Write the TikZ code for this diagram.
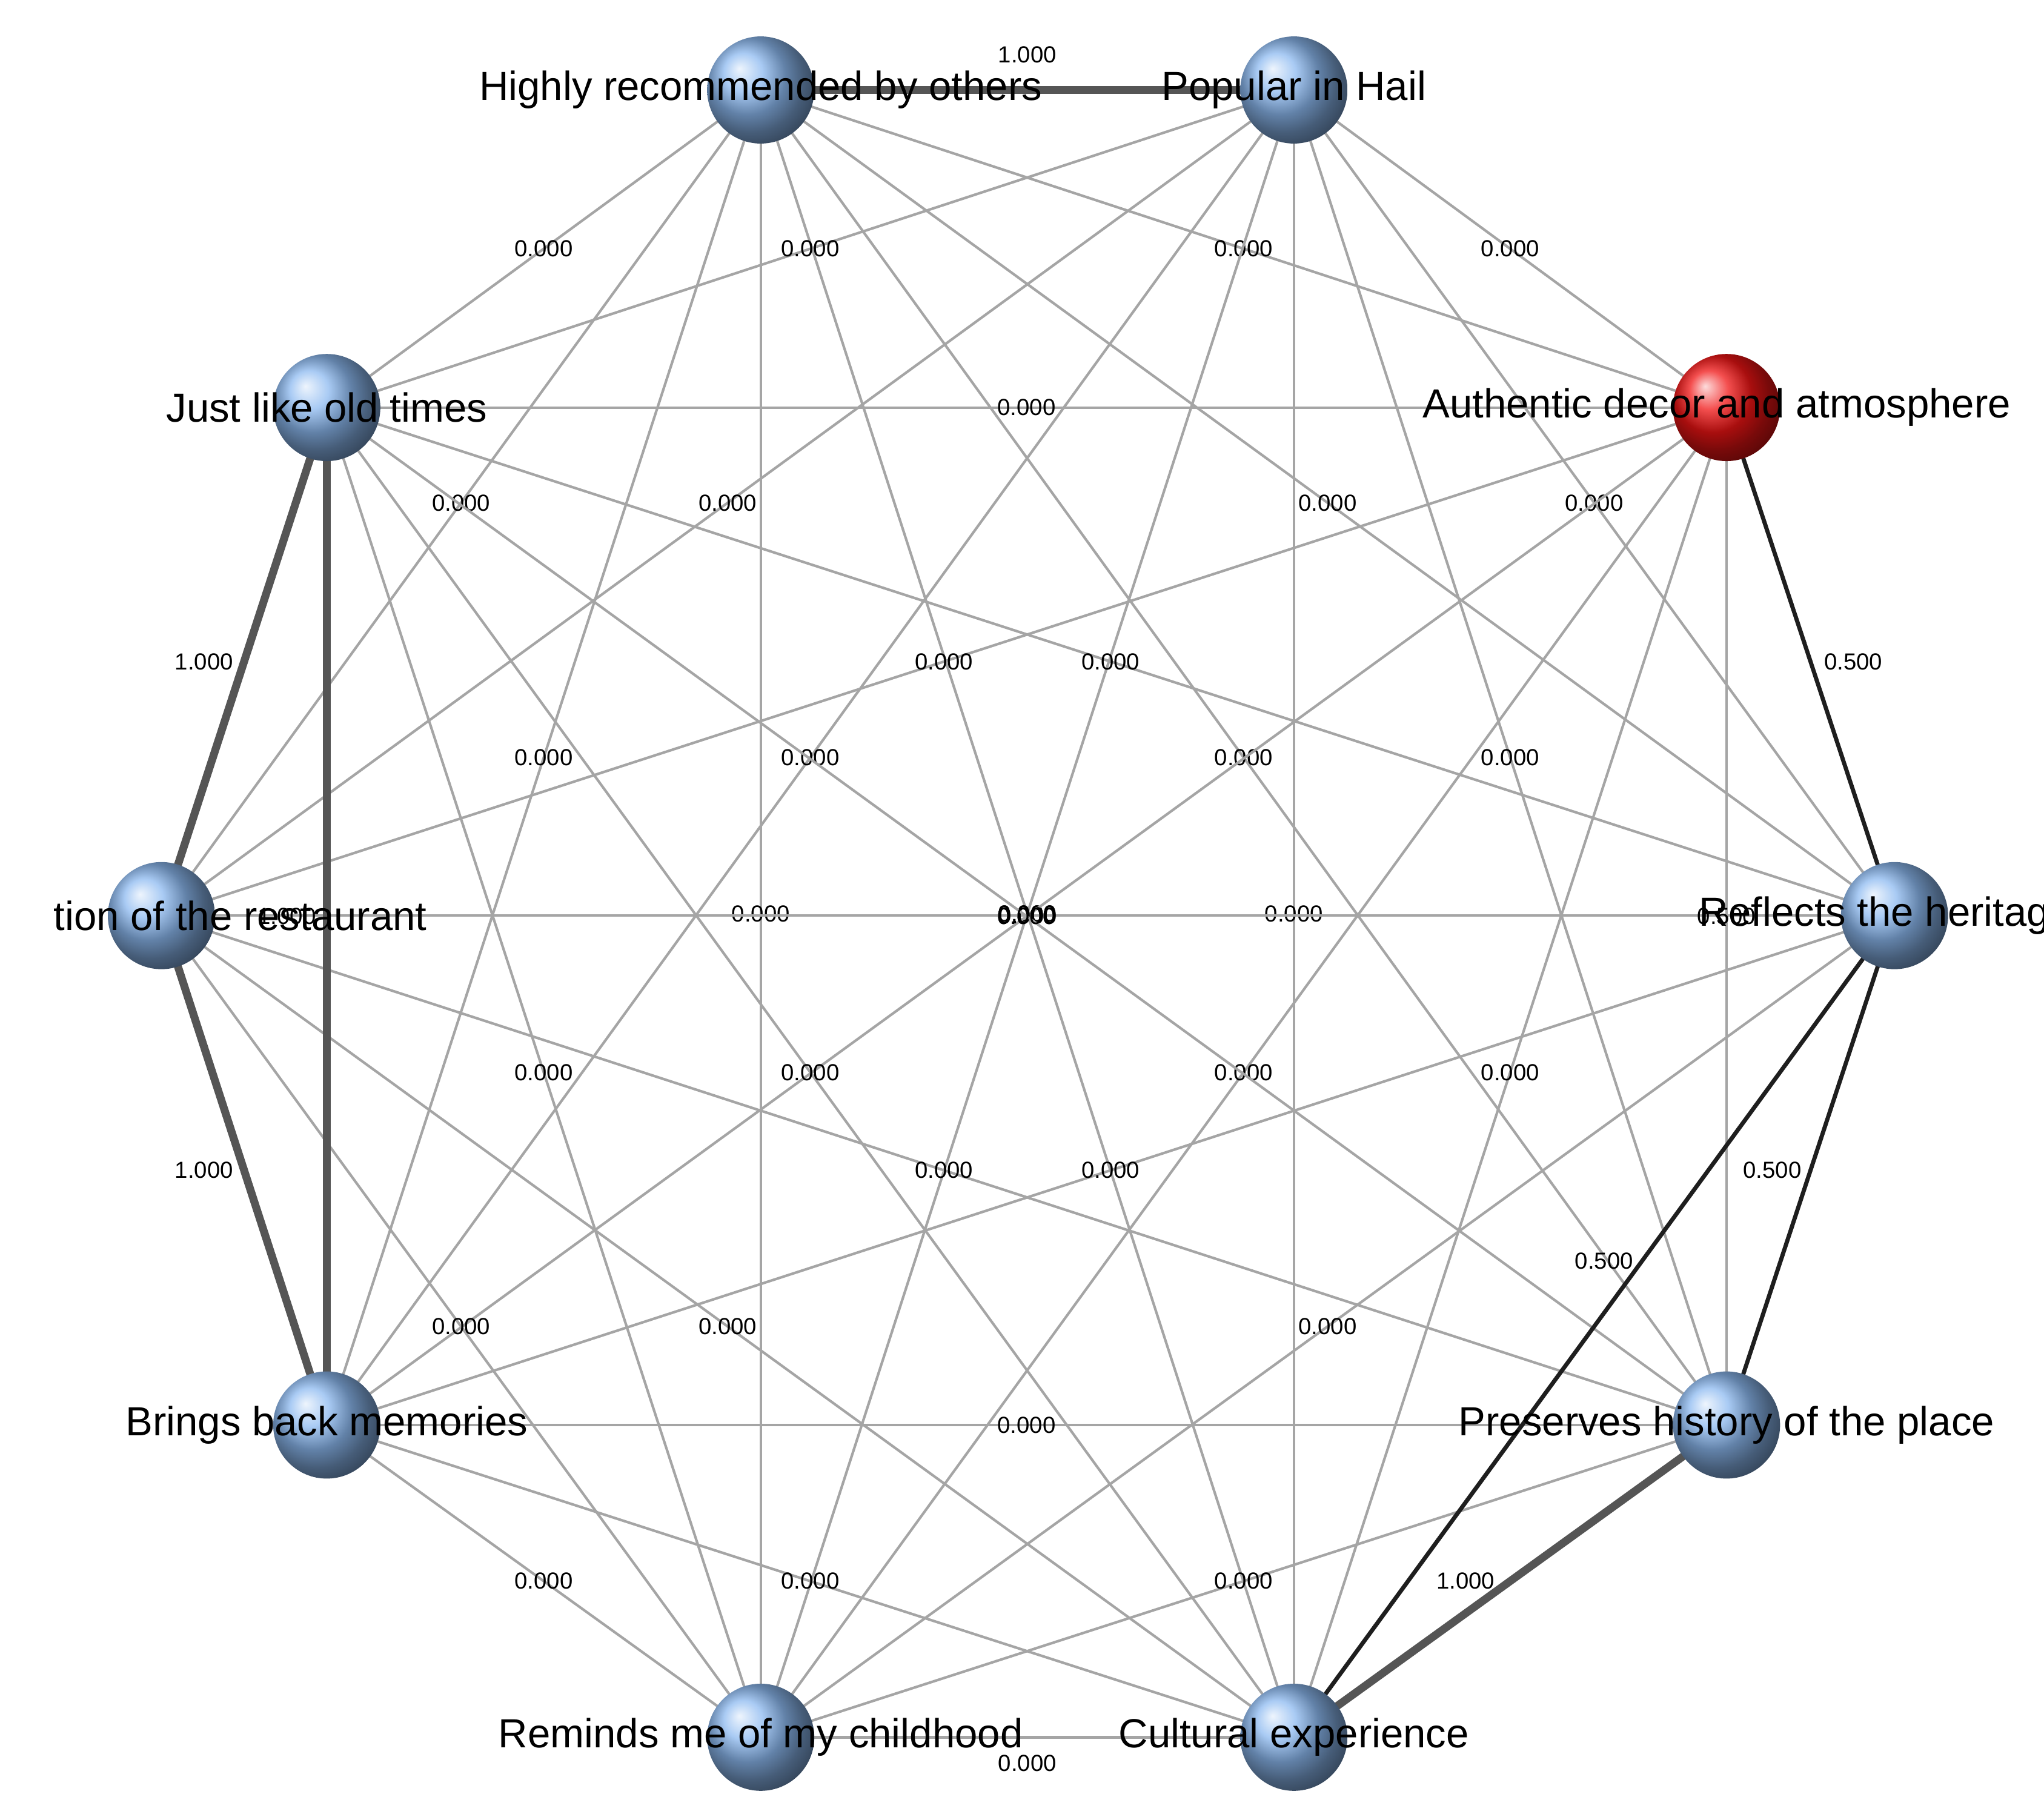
\documentclass[tikz,border=0pt]{standalone}
\usepackage{fontspec}
\setmainfont{Liberation Sans}
\usetikzlibrary{shadings}
\begin{document}
\begin{tikzpicture}[x=0.02cm,y=-0.02cm,
  lite/.style={draw={rgb,255:red,165;green,165;blue,165},line width=1.1pt},
  heavy/.style={draw={rgb,255:red,85;green,85;blue,85},line width=3.4pt},
  mid/.style={draw={rgb,255:red,30;green,30;blue,30},line width=1.8pt},
  elab/.style={font=\fontsize{10}{10}\selectfont,inner sep=1pt},
  nlab/.style={font=\fontsize{17.5}{17.5}\selectfont,inner sep=0pt},
  ballnode/.style={circle,minimum size=1.62cm,inner sep=0pt,shading=ball}]
\useasboundingbox (0,0) rectangle (1545,1373);
\clip (0,0) rectangle (1545,1373);
\coordinate (n0) at (575,68);
\coordinate (n1) at (978,68);
\coordinate (n2) at (1305,308);
\coordinate (n3) at (1432,692);
\coordinate (n4) at (1305,1077);
\coordinate (n5) at (978,1313);
\coordinate (n6) at (575,1313);
\coordinate (n7) at (247,1077);
\coordinate (n8) at (122,692);
\coordinate (n9) at (247,308);
\expandafter\def\csname sp0-1\endcsname{}
\expandafter\def\csname sp7-9\endcsname{}
\expandafter\def\csname sp8-9\endcsname{}
\expandafter\def\csname sp7-8\endcsname{}
\expandafter\def\csname sp2-3\endcsname{}
\expandafter\def\csname sp3-4\endcsname{}
\expandafter\def\csname sp3-5\endcsname{}
\expandafter\def\csname sp4-5\endcsname{}
\expandafter\def\csname sp2-4\endcsname{}
\expandafter\def\csname sp5-6\endcsname{}
\foreach \i in {0,...,8}{
  \pgfmathtruncatemacro\s{\i+1}
  \foreach \j in {\s,...,9}{
    \ifcsname sp\i-\j\endcsname\else
      \draw[lite] (n\i) -- node[elab]{0.000} (n\j);
    \fi
  }
}
\draw[lite] (n2) -- node[elab]{0.500} (n4);
\draw[lite] (n6) -- node[elab,below=6pt]{0.000} (n5);
\draw[heavy] (n0) -- node[elab,above=9pt]{1.000} (n1);
\draw[heavy] (n9) -- node[elab,left=2pt]{1.000} (n8);
\draw[heavy] (n9) -- node[elab,left=2pt]{1.000} (n7);
\draw[heavy] (n8) -- node[elab,left=2pt]{1.000} (n7);
\draw[mid] (n2) -- node[elab,right=4pt]{0.500} (n3);
\draw[mid] (n3) -- node[elab,left=2pt]{0.500} (n4);
\draw[mid] (n3) -- node[elab,pos=0.42,left=2pt]{0.500} (n5);
\draw[heavy] (n4) -- node[elab,left=4pt]{1.000} (n5);
\foreach \k in {0,1,3,4,5,6,7,8,9}{
  \node[ballnode,ball color={rgb,255:red,140;green,185;blue,240}] (b\k) at (n\k) {};
}
\node[ballnode,ball color={rgb,255:red,240;green,20;blue,20}] (b2) at (n2) {};
\node[nlab] (t0) at (n0) {Highly recommended by others};
\node[nlab] (t1) at (n1) {Popular in Hail};
\node[nlab,anchor=west] (t2) at (1075,308) {Authentic decor and atmosphere};
\node[nlab,anchor=west] (t3) at (1284,692) {Reflects the heritage};
\node[nlab] (t4) at (n4) {Preserves history of the place};
\node[nlab] (t5) at (n5) {Cultural experience};
\node[nlab] (t6) at (n6) {Reminds me of my childhood};
\node[nlab] (t7) at (n7) {Brings back memories};
\node[nlab,anchor=east] (t8) at (323,692) {tion of the restaurant};
\node[nlab] (t9) at (n9) {Just like old times};
\end{tikzpicture}
\end{document}
